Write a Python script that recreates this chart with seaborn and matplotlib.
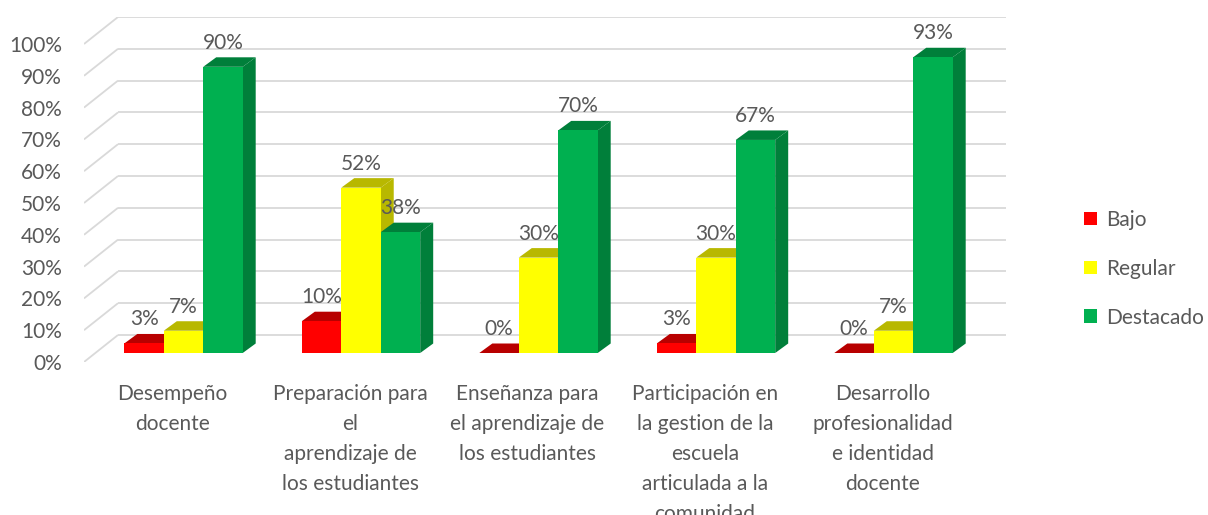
import numpy as np
import pandas as pd
import matplotlib
matplotlib.use("Agg")
import matplotlib.pyplot as plt
import seaborn as sns
from matplotlib.patches import Polygon, Patch
from matplotlib.colors import to_rgb

# ---------------- data ----------------
categories = [
    "Desempeño\ndocente",
    "Preparación para\nel\naprendizaje de\nlos estudiantes",
    "Enseñanza para\nel aprendizaje de\nlos estudiantes",
    "Participación en\nla gestion de la\nescuela\narticulada a la\ncomunidad",
    "Desarrollo\nprofesionalidad\ne identidad\ndocente",
]
series_names = ["Bajo", "Regular", "Destacado"]
bajo = [0.03, 0.10, 0.00, 0.03, 0.00]
regular = [0.07, 0.52, 0.30, 0.30, 0.07]
destacado = [0.90, 0.38, 0.70, 0.67, 0.93]
tick_values = [0.0, 0.1, 0.2, 0.3, 0.4, 0.5, 0.6, 0.7, 0.8, 0.9, 1.0]
tick_labels = ["0%", "10%", "20%", "30%", "40%", "50%", "60%", "70%", "80%", "90%", "100%"]
colors = ["#FF0000", "#FFFF00", "#00B050"]

df = pd.DataFrame({
    "categoria": categories * 3,
    "nivel": [series_names[0]] * 5 + [series_names[1]] * 5 + [series_names[2]] * 5,
    "valor": bajo + regular + destacado,
})

# ---------------- style ----------------
sns.set_theme(style="white")
plt.rcParams["font.family"] = ["Lato", "DejaVu Sans"]
TXT = "#595959"
FS = 15

W, H = 1208, 515
fig = plt.figure(figsize=(W / 100, H / 100), dpi=100)
# axes in bar plane coordinates
ax_left, ax_right, ax_top, ax_bot = 84, 1006, 16.7, 362
ax = fig.add_axes([ax_left / W, 1 - ax_bot / H, (ax_right - ax_left) / W, (ax_bot - ax_top) / H])

sns.barplot(data=df, x="categoria", y="valor", hue="nivel", palette=colors,
            width=0.667, saturation=1, dodge=True, legend=False, ax=ax,
            linewidth=0, order=categories, hue_order=series_names)

# scale: px per unit
cat_px = 177.5
y_px = 318.0
zero_px = 353.0
cat0_px = 183.5
ax.set_xlim((ax_left - cat0_px) / cat_px, (ax_right - cat0_px) / cat_px)
ax.set_ylim((zero_px - ax_bot) / y_px, (zero_px - ax_top) / y_px)

# depth offsets (data units)
back_dx, back_dy = 23 / cat_px, 18 / y_px      # bar plane -> back wall
front_dx, front_dy = -11 / cat_px, -9 / y_px   # bar plane -> front edge
bar_dx, bar_dy = 13 / cat_px, 9.5 / y_px       # bar depth

x_front = ax.get_xlim()[0]
x_back = x_front + (34 / cat_px)
x_end = ax.get_xlim()[1]
for v in tick_values:
    ax.plot([x_front, x_back], [v + front_dy, v + back_dy], color="#D9D9D9", lw=1.3, zorder=0.5,
            solid_capstyle="butt")
    ax.plot([x_back, x_end], [v + back_dy, v + back_dy], color="#D9D9D9", lw=1.3, zorder=0.5,
            solid_capstyle="butt")

# 3D faces
bars = sorted(ax.patches, key=lambda p: p.get_x())
for i, p in enumerate(bars):
    x0, w, h = p.get_x(), p.get_width(), p.get_height()
    x1 = x0 + w
    fc = np.array(to_rgb(p.get_facecolor()))
    dark = tuple(fc * 0.72)
    side = Polygon([(x1, 0), (x1, h), (x1 + bar_dx, h + bar_dy), (x1 + bar_dx, bar_dy)],
                   closed=True, facecolor=dark, edgecolor="none", zorder=2 + 2 * i)
    top = Polygon([(x0, h), (x1, h), (x1 + bar_dx, h + bar_dy), (x0 + bar_dx, h + bar_dy)],
                  closed=True, facecolor=dark, edgecolor="none", zorder=2 + 2 * i)
    ax.add_patch(side)
    ax.add_patch(top)
    p.set_zorder(3 + 2 * i)
    ax.annotate(f"{round(h * 100)}%", (x0 + w / 2, h), xytext=(0, 13), textcoords="offset points",
                ha="center", va="baseline", fontsize=FS, color=TXT, zorder=100)

# ticks
ax.set_yticks([v + front_dy for v in tick_values])
ax.set_yticklabels(tick_labels)
ax.set_xticks([i + front_dx for i in range(len(categories))])
ax.set_xticklabels(categories, linespacing=1.62)
ax.tick_params(axis="y", length=0, pad=16, labelsize=FS, labelcolor=TXT)
ax.tick_params(axis="x", length=0, pad=16, labelsize=FS, labelcolor=TXT)
ax.set_xlabel("")
ax.set_ylabel("")
for s in ax.spines.values():
    s.set_visible(False)
ax.grid(False)

# legend
handles = [Patch(facecolor=c, edgecolor="none") for c in colors]
fig.legend(handles, series_names, loc="upper left", bbox_to_anchor=(1084 / W, 1 - 210 / H),
           frameon=False, fontsize=FS, labelcolor=TXT, handlelength=0.62, handleheight=0.62,
           handletextpad=0.45, labelspacing=1.38, borderpad=0, borderaxespad=0)

fig.savefig("out.png", dpi=100)
